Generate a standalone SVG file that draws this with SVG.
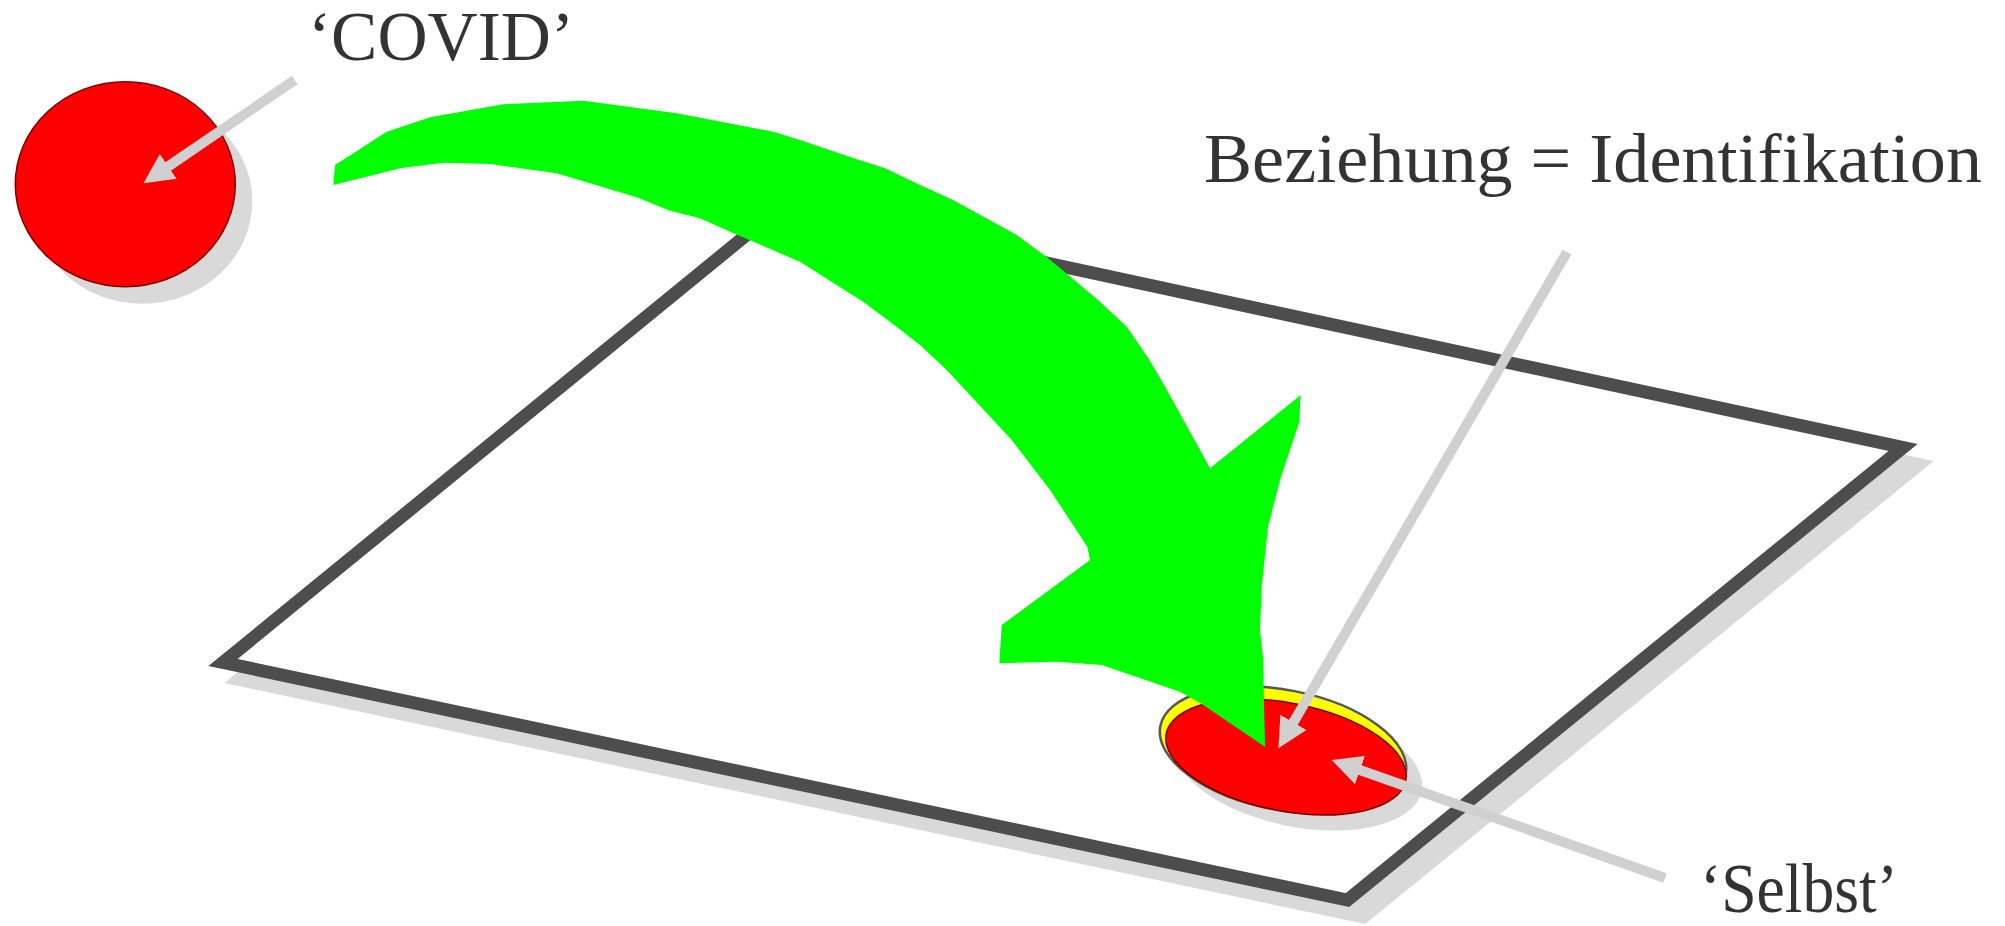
<svg xmlns="http://www.w3.org/2000/svg" width="2005" height="926" viewBox="0 0 2005 926">
<style>
  .label { font-family: "Liberation Serif", "DejaVu Serif", serif; font-size: 70px; fill: #333333; }
  .shadow { fill: #d9d9d9; }
  .pointer { stroke: #d0d0d0; stroke-width: 10; fill: none; stroke-linecap: butt; marker-end: url(#head); }
</style>
<defs>
  <marker id="head" markerUnits="userSpaceOnUse" markerWidth="30" markerHeight="30" viewBox="0 0 30 30" refX="10" refY="15" orient="auto">
    <path d="M0,0 L30,15 L0,30 Z" fill="#d0d0d0"/>
  </marker>
</defs>
<rect width="2005" height="926" fill="#ffffff"/>

<g id="plane">
  <path d="M782,206 L1903,447.5 L1347.5,900 L223,662.5 Z" transform="translate(16,17)" fill="#d9d9d9" stroke="#d9d9d9" stroke-width="13" stroke-linejoin="miter"/>
  <path d="M782,206 L1903,447.5 L1347.5,900 L223,662.5 Z" fill="#ffffff" stroke="#4d4d4d" stroke-width="13" stroke-linejoin="miter"/>
</g>

<g id="covid">
  <ellipse class="shadow" cx="142.3" cy="201.2" rx="110" ry="102.5"/>
  <ellipse cx="125.3" cy="184.2" rx="110" ry="102.5" fill="#ff0000" stroke="#7a0000" stroke-width="1.5"/>
</g>

<g id="selbst">
  <ellipse class="shadow" cx="1299" cy="767" rx="125" ry="60" transform="rotate(11 1299 767)"/>
  <ellipse cx="1283" cy="750" rx="125" ry="60" transform="rotate(11 1283 750)" fill="#ffff00" stroke="#555555" stroke-width="2.5"/>
  <ellipse cx="1286" cy="757" rx="122" ry="54" transform="rotate(11 1286 757)" fill="#ff0000" stroke="#7a0000" stroke-width="1.5"/>
</g>

<g id="connectors">
  <path id="green-arrow" fill="#00ff00" d="M335,165 L386.7,131.7 L430,117.3 L503.3,104.3 L583.3,100.7 L676.7,113.3 L773.3,131.7 L800,140 L853,158 L885,168.3 L920,185 L953,200 L1016.7,235 L1048.3,258.3 L1098,300 L1126.7,326.7 L1148.3,358.3 L1163,383 L1200,450 L1210,468.3 L1300.7,395 L1299.3,421.7 L1280,480 L1268,526.7 L1261.7,586.7 L1260,630 L1263,656.7 L1265,746.7 L1203.3,705 L1180,691.7 L1101.7,665 L1056.7,661.7 L999.3,663.3 L1001.7,625 L1090,560 L1087.3,546.7 L1050,490 L1011.7,440 L946.7,370 L920,345 L890,321.7 L863,301.7 L800,261.7 L733,233 L700,218.3 L670,210.7 L636.7,197.3 L556.7,173.3 L490,164 L443.3,162.7 L400,168.3 L333.3,185 Z"/>
  <line class="pointer" x1="294.7" y1="80" x2="160" y2="172"/>
  <line class="pointer" x1="1567" y1="252" x2="1288.4" y2="731"/>
  <line class="pointer" x1="1665" y1="878" x2="1350.6" y2="766.7"/>
</g>

<g id="labels">
  <text class="label" x="308" y="60" textLength="266" lengthAdjust="spacingAndGlyphs">‘COVID’</text>
  <text class="label" x="1204" y="181.7" textLength="778" lengthAdjust="spacingAndGlyphs">Beziehung = Identifikation</text>
  <text class="label" x="1700" y="911.7" textLength="198" lengthAdjust="spacingAndGlyphs">‘Selbst’</text>
</g>
</svg>
